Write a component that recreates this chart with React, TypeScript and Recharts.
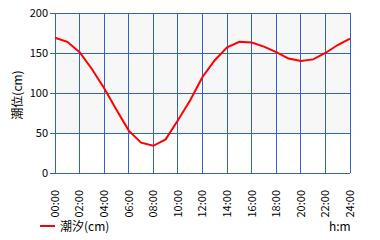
import {
  LineChart,
  Line,
  XAxis,
  YAxis,
  CartesianGrid,
} from "recharts";

// hourly tide level, 00:00 .. 24:00
const hours = [
  0, 1, 2, 3, 4, 5, 6, 7, 8, 9, 10, 11, 12, 13, 14, 15, 16, 17, 18, 19, 20, 21,
  22, 23, 24,
];
const tide = [
  169, 164, 151, 130, 106, 79, 53, 38, 34, 42, 66, 91, 120, 141, 157, 164, 163,
  158, 151, 143, 140, 142, 150, 160, 168,
];
const xTicks = [0, 2, 4, 6, 8, 10, 12, 14, 16, 18, 20, 22, 24];
const yTicks = [0, 50, 100, 150, 200];

const BLUE = "#2f62cf";
const FONT = "'Noto Sans CJK JP', 'DejaVu Sans', sans-serif";

const data = hours.map((h, i) => ({ h, tide: tide[i] }));

function fmtHour(h: number): string {
  return `${String(h).padStart(2, "0")}:00`;
}

function HourTick(props: any) {
  const { x, y, payload } = props;
  return (
    <text
      x={x}
      y={y + 9}
      transform={`rotate(-90, ${x}, ${y + 9})`}
      textAnchor="end"
      dy="0.35em"
      fontSize={11}
      fontFamily={FONT}
      fill="#000"
    >
      {fmtHour(payload.value)}
    </text>
  );
}

export default function App() {
  return (
    <div
      style={{
        position: "absolute",
        left: 0,
        top: 0,
        width: 380,
        height: 240,
        background: "#fff",
        fontFamily: FONT,
      }}
    >
      <LineChart
        width={380}
        height={240}
        data={data}
        margin={{ top: 13, right: 30, left: 0, bottom: 0 }}
      >
        <CartesianGrid
          stroke={BLUE}
          strokeWidth={1}
          shapeRendering="crispEdges"
          horizontalFill={["#f7f7f7", "#f7f7f7", "#f7f7f7", "#ffffff"]}
          fillOpacity={1}
        />
        <XAxis
          dataKey="h"
          type="number"
          domain={[0, 24]}
          ticks={xTicks}
          interval={0}
          height={67}
          axisLine={false}
          tickLine={false}
          tick={<HourTick />}
        />
        <YAxis
          type="number"
          domain={[0, 200]}
          ticks={yTicks}
          interval={0}
          width={55}
          axisLine={false}
          tickSize={5}
          tickMargin={2}
          tickLine={{ stroke: BLUE, shapeRendering: "crispEdges" }}
          tick={{ fontSize: 11, fill: "#000", fontFamily: FONT }}
          label={{
            value: "潮位(cm)",
            angle: -90,
            position: "insideLeft",
            offset: 18,
            dy: 2,
            style: { fontSize: 12, fill: "#000", fontFamily: FONT, textAnchor: "middle" },
          }}
        />
        <Line
          type="linear"
          dataKey="tide"
          stroke="#ff0000"
          strokeWidth={2}
          dot={false}
          activeDot={false}
          isAnimationActive={false}
        />
      </LineChart>
      <div
        style={{
          position: "absolute",
          left: 40,
          top: 225,
          width: 15,
          height: 2,
          background: "#ff0000",
        }}
      />
      <div
        style={{
          position: "absolute",
          left: 60,
          top: 218,
          fontSize: 12,
          lineHeight: "16px",
          color: "#000",
        }}
      >
        潮汐(cm)
      </div>
      <div
        style={{
          position: "absolute",
          left: 329,
          top: 218,
          fontSize: 12,
          lineHeight: "16px",
          color: "#000",
        }}
      >
        h:m
      </div>
    </div>
  );
}
